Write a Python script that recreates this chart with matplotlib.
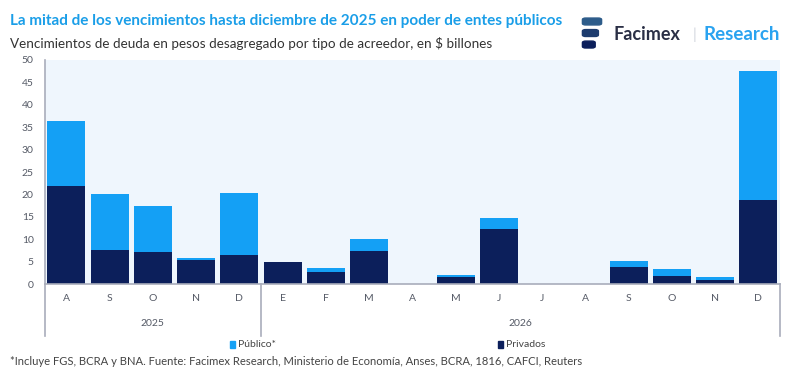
import matplotlib
matplotlib.use("Agg")
import matplotlib.pyplot as plt
from matplotlib.patches import FancyBboxPatch, Rectangle
import numpy as np

plt.rcParams['font.family'] = ['Lato', 'DejaVu Sans']

# datos (en $ billones)
meses = ["A", "S", "O", "N", "D", "E", "F", "M", "A", "M", "J", "J", "A", "S", "O", "N", "D"]
anios = ["2025", "2026"]
meses_por_anio = [5, 12]
privados = [21.9, 7.6, 7.1, 5.4, 6.5, 4.9, 2.6, 7.3, 0.0, 1.6, 12.3, 0.0, 0.0, 3.9, 1.8, 1.0, 18.8]
total = [36.4, 20.1, 17.4, 5.8, 20.3, 4.9, 3.7, 10.1, 0.0, 2.1, 14.8, 0.0, 0.0, 5.2, 3.3, 1.5, 47.6]
publico = [t - p for t, p in zip(total, privados)]

c_pub = '#14a0f5'
c_priv = '#0c1f5b'
c_gris = '#a9adbb'

fig = plt.figure(figsize=(8, 3.84), dpi=100)
ax = fig.add_axes([0.056, 0.26, 0.919, 0.584])
ax.set_facecolor('#eff6fd')

x = np.arange(len(meses))
ax.bar(x, privados, width=0.88, color=c_priv, zorder=2)
ax.bar(x, publico, width=0.88, bottom=privados, color=c_pub, zorder=2)

ax.set_xlim(-0.5, len(meses) - 0.5)
ax.set_ylim(0, 50)
ax.set_yticks(range(0, 51, 5))
ax.tick_params(axis='y', length=0, labelsize=7.5, colors='#555a66', pad=8)
ax.set_xticks(x)
ax.set_xticklabels(meses)
ax.tick_params(axis='x', length=0, labelsize=7.5, colors='#555a66', pad=7)

for s in ['top', 'right']:
    ax.spines[s].set_visible(False)
for s in ['left', 'bottom']:
    ax.spines[s].set_color(c_gris)
    ax.spines[s].set_linewidth(1.2)

# separadores de anio
trans = ax.get_xaxis_transform()
bordes = np.cumsum([0] + meses_por_anio) - 0.5
for b in bordes:
    ax.plot([b, b], [0, -0.23], transform=trans, color=c_gris, lw=1.2, clip_on=False)
inicio = 0
for anio, n in zip(anios, meses_por_anio):
    ax.text(inicio + (n - 1) / 2, -0.175, anio, transform=trans, ha='center', va='center',
            fontsize=7.5, color='#555a66')
    inicio += n

# titulos
fig.text(0.013, 0.945, "La mitad de los vencimientos hasta diciembre de 2025 en poder de entes públicos",
         fontsize=11, fontweight='bold', color='#1a9ee8', va='center')
fig.text(0.013, 0.888, "Vencimientos de deuda en pesos desagregado por tipo de acreedor, en $ billones",
         fontsize=9.7, color='#333333', va='center')

# logo
for i, (y0, w) in enumerate([(0.935, 0.024), (0.905, 0.020), (0.875, 0.016)]):
    fig.patches.append(FancyBboxPatch((0.728, y0), w, 0.018, boxstyle="round,pad=0,rounding_size=0.004",
                                      transform=fig.transFigure, color=['#2d5c8a', '#1d3c6e', '#0c1f5b'][i]))
fig.text(0.767, 0.91, "Facimex", fontsize=13, fontweight='bold', color='#2a2f45', va='center')
fig.text(0.866, 0.91, "|", fontsize=11, color='#d0d4dc', va='center')
fig.text(0.879, 0.91, "Research", fontsize=13.5, fontweight='bold', color='#2aa3f0', va='center')

# leyenda
fig.patches.append(Rectangle((0.288, 0.093), 0.006, 0.018, transform=fig.transFigure, color=c_pub))
fig.text(0.297, 0.102, "Público*", fontsize=7.5, color='#444444', va='center')
fig.patches.append(Rectangle((0.623, 0.093), 0.006, 0.018, transform=fig.transFigure, color=c_priv))
fig.text(0.632, 0.102, "Privados", fontsize=7.5, color='#444444', va='center')

fig.text(0.013, 0.058, "*Incluye FGS, BCRA y BNA. Fuente: Facimex Research, Ministerio de Economía, Anses, BCRA, 1816, CAFCI, Reuters",
         fontsize=8.1, color='#444444', va='center')

fig.savefig("out.png", dpi=100, facecolor='white')
